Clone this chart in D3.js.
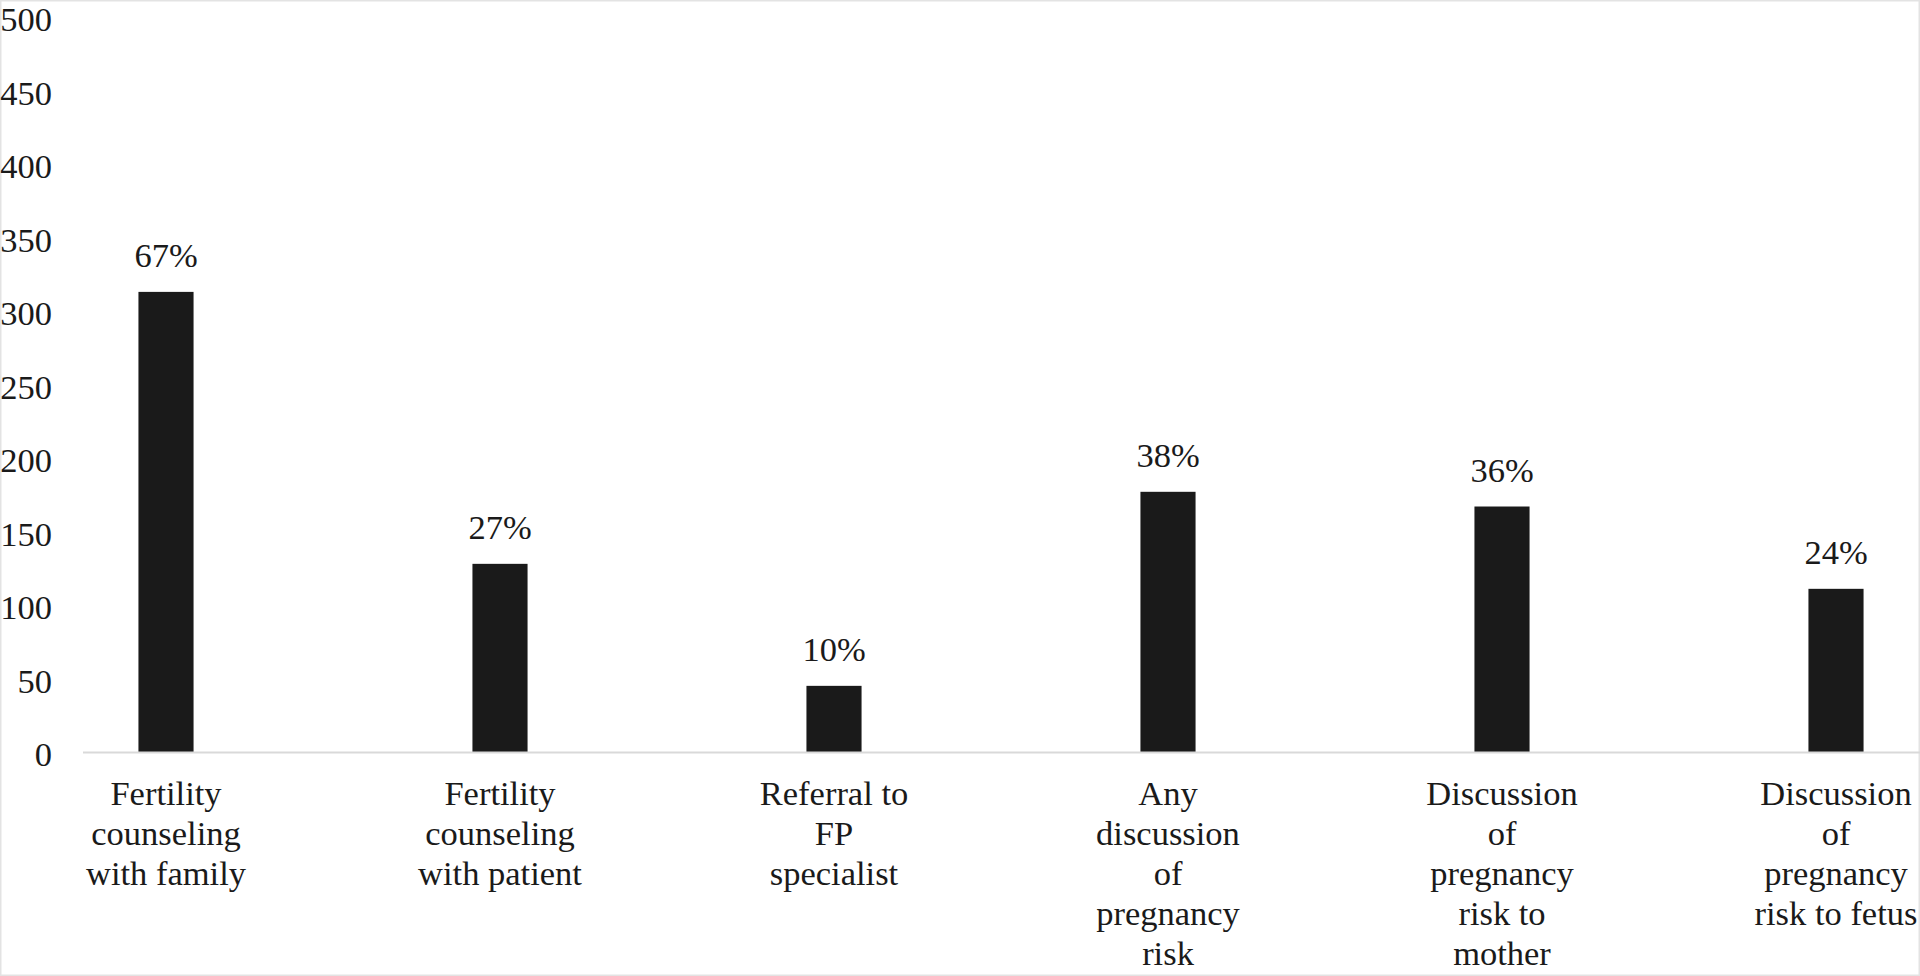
<!DOCTYPE html>
<html>
<head>
<meta charset="utf-8">
<script src="https://cdn.jsdelivr.net/npm/d3@7"></script>
<style>
  html, body { margin: 0; padding: 0; background: #fff; }
  svg { display: block; }
</style>
</head>
<body>
<svg></svg>
<script>
// Data
var categories = [
  'Fertility counseling with family',
  'Fertility counseling with patient',
  'Referral to FP specialist',
  'Any discussion of pregnancy risk',
  'Discussion of pregnancy risk to mother',
  'Discussion of pregnancy risk to fetus'
];
var categoryLines = [
  ['Fertility', 'counseling', 'with family'],
  ['Fertility', 'counseling', 'with patient'],
  ['Referral to', 'FP', 'specialist'],
  ['Any', 'discussion', 'of', 'pregnancy', 'risk'],
  ['Discussion', 'of', 'pregnancy', 'risk to', 'mother'],
  ['Discussion', 'of', 'pregnancy', 'risk to fetus']
];
var counts = [313, 128, 45, 177, 167, 111];
var percentLabels = ['67%', '27%', '10%', '38%', '36%', '24%'];
var yTicks = [0, 50, 100, 150, 200, 250, 300, 350, 400, 450, 500];

// Dimensions
var width = 1920;
var height = 976;
var baseY = 752;
var topY = 17;
var fontSize = 34.5;
var ink = '#1a1a1a';

var svg = d3.select('svg')
  .attr('width', width)
  .attr('height', height)
  .style('background', '#fff')
  .attr('font-family', '"Liberation Serif", "Times New Roman", serif');

// faint frame round the picture
svg.append('rect')
  .attr('x', 0.75)
  .attr('y', 0.75)
  .attr('width', width - 1.5)
  .attr('height', height - 1.5)
  .attr('fill', 'none')
  .attr('stroke', '#e3e3e3')
  .attr('stroke-width', 1.5);

var x = d3.scaleBand()
  .domain(categories)
  .range([-1, 2003])
  .paddingInner(0.835)
  .paddingOuter(0.4175);

var y = d3.scaleLinear()
  .domain([0, 500])
  .range([baseY, topY]);

// Y tick labels (no axis line)
var yAxis = d3.axisLeft(y)
  .tickValues(yTicks)
  .tickSize(0)
  .tickPadding(0);

var yg = svg.append('g')
  .attr('transform', 'translate(52,0)')
  .call(yAxis);
yg.select('.domain').remove();
yg.selectAll('text')
  .attr('font-family', '"Liberation Serif", "Times New Roman", serif')
  .attr('font-size', fontSize)
  .attr('fill', ink)
  .attr('dy', '0.4em');

// Bars
svg.selectAll('rect.bar')
  .data(counts)
  .enter()
  .append('rect')
    .attr('class', 'bar')
    .attr('x', function (d, i) { return x(categories[i]); })
    .attr('y', function (d) { return y(d); })
    .attr('width', x.bandwidth())
    .attr('height', function (d) { return baseY - y(d); })
    .attr('fill', ink);

// Horizontal axis line
svg.append('line')
  .attr('x1', 83)
  .attr('x2', width)
  .attr('y1', baseY + 0.5)
  .attr('y2', baseY + 0.5)
  .attr('stroke', '#d9d9d9')
  .attr('stroke-width', 2);

// Percent labels above bars
svg.selectAll('text.pct')
  .data(counts)
  .enter()
  .append('text')
    .attr('class', 'pct')
    .attr('x', function (d, i) { return x(categories[i]) + x.bandwidth() / 2; })
    .attr('y', function (d) { return y(d) - 25; })
    .attr('text-anchor', 'middle')
    .attr('font-size', fontSize)
    .attr('fill', ink)
    .text(function (d, i) { return percentLabels[i]; });

// Category labels, wrapped as in the picture
var cat = svg.selectAll('text.cat')
  .data(categories)
  .enter()
  .append('text')
    .attr('class', 'cat')
    .attr('text-anchor', 'middle')
    .attr('font-size', fontSize)
    .attr('fill', ink);

cat.each(function (d, i) {
  var cx = x(d) + x.bandwidth() / 2;
  d3.select(this).selectAll('tspan')
    .data(categoryLines[i])
    .enter()
    .append('tspan')
      .attr('x', cx)
      .attr('y', function (line, j) { return 805 + j * 40; })
      .text(function (line) { return line; });
});
</script>
</body>
</html>
